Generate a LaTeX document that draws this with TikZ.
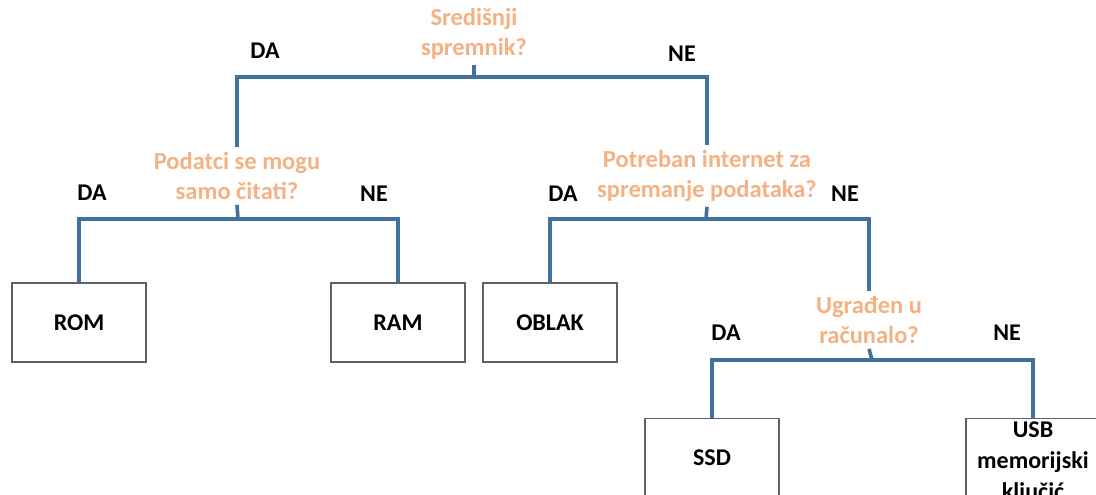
\documentclass[tikz,border=0pt]{standalone}
\usepackage{fontspec}
\setmainfont{Carlito}
\definecolor{qorange}{RGB}{244,177,131}
\definecolor{branchblue}{RGB}{65,113,156}
\definecolor{boxgray}{RGB}{90,98,110}
\tikzset{
  question/.style={text=qorange, align=center, inner sep=5pt,
    font=\fontsize{24.5}{30}\selectfont\bfseries},
  answer/.style={font=\fontsize{24}{26}\selectfont\bfseries},
  leaf/.style={draw=boxgray, line width=1.4pt, fill=white, align=center,
    minimum width=134pt, minimum height=79pt,
    font=\fontsize{24}{31}\selectfont\bfseries},
  branch/.style={draw=branchblue, line width=3.6pt}
}
\begin{document}
\begin{tikzpicture}[x=1pt,y=1pt]
\clip (0,0) rectangle (1096,-495);
\fill[white] (0,0) rectangle (1096,-495);
% questions
\node[question] (sredisnji) at (474,-34) {Središnji\\spremnik?};
\node[question] (podatci) at (237,-176) {Podatci se mogu\\samo čitati?};
\node[question] (potreban) at (707,-176) {Potreban internet za\\spremanje podataka?};
\node[question] (ugraden) at (869,-320) {Ugrađen u\\računalo?};
% leaves
\node[leaf] (rom) at (79,-322.5) {ROM};
\node[leaf] (ram) at (398,-322.5) {RAM};
\node[leaf] (oblak) at (550,-322.5) {OBLAK};
\node[leaf] (ssd) at (712,-458) {SSD};
\node[leaf, anchor=north] (usb) at (1033,-418) {USB\\memorijski\\ključić};
% answers
\node[answer] (da1) at (265,-51) {DA};
\node[answer] (ne1) at (682,-54) {NE};
\node[answer] (da2) at (92,-193) {DA};
\node[answer] (ne2) at (374,-194) {NE};
\node[answer] (da3) at (563,-194) {DA};
\node[answer] (ne3) at (845,-194) {NE};
\node[answer] (da4) at (726,-333) {DA};
\node[answer] (ne4) at (1007,-333) {NE};
% bars
\coordinate (bar1) at (474,-77);
\coordinate (bar2) at (238,-219);
\coordinate (bar3) at (706,-219);
\coordinate (bar4) at (872,-360);
\draw[branch] (sredisnji.south) -- (bar1);
\draw[branch] (podatci.north) |- (bar1) -| (potreban.north);
\draw[branch] (podatci.south) -- (bar2);
\draw[branch] (rom.north) |- (bar2) -| (ram.north);
\draw[branch] (potreban.south) -- (bar3);
\draw[branch] (oblak.north) |- (bar3) -| (ugraden.north);
\draw[branch] (ugraden.south) -- (bar4);
\draw[branch] (ssd.north) |- (bar4) -| (usb.north);
\end{tikzpicture}
\end{document}
